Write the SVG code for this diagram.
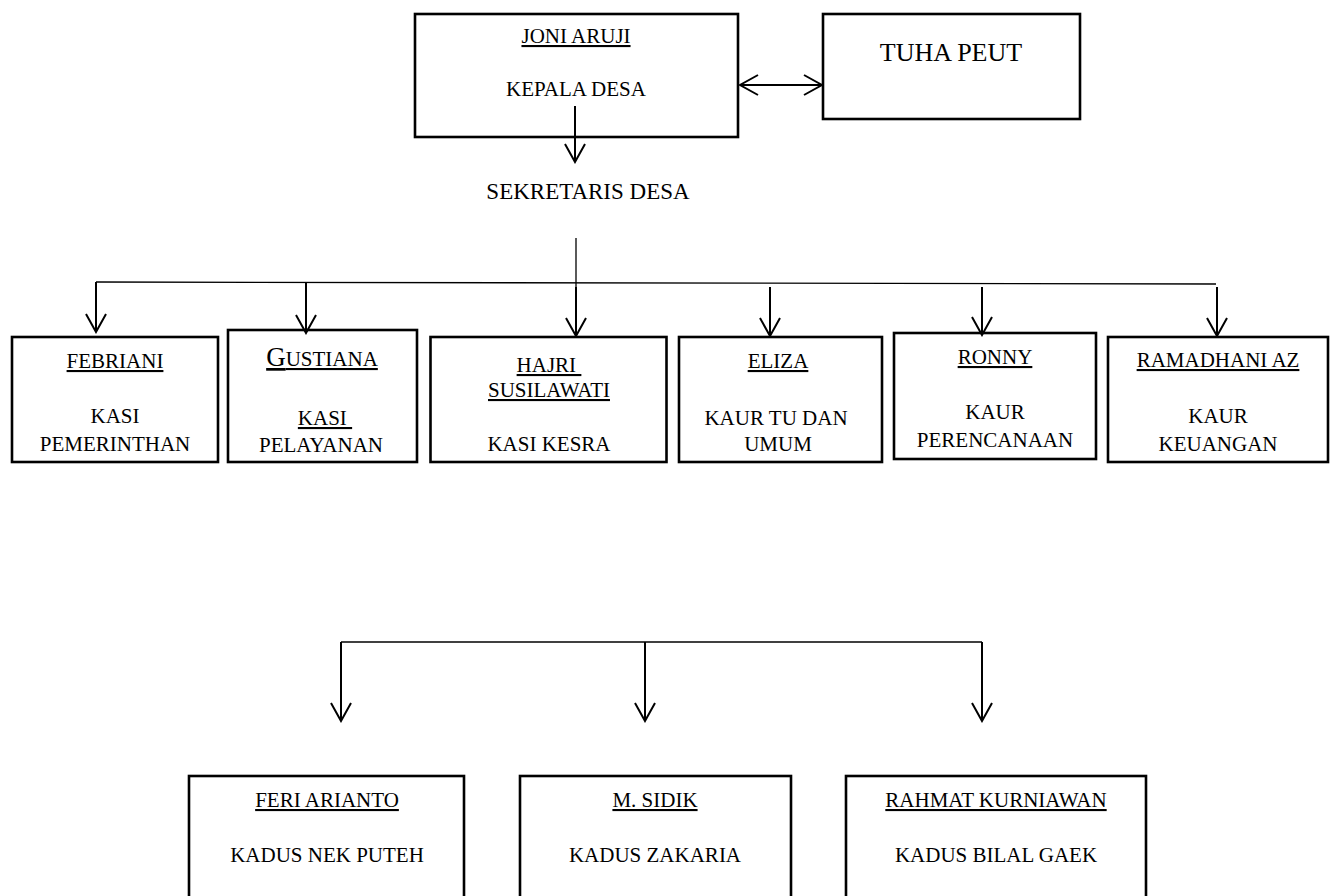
<svg xmlns="http://www.w3.org/2000/svg" width="1335" height="896" viewBox="0 0 1335 896">
<style>
text{font-family:"Liberation Serif","Times New Roman",serif;font-size:21px;fill:#000;text-anchor:middle}
.u{text-decoration:underline}
.box{fill:#fff;stroke:#000;stroke-width:2.6}
.thin{stroke:#000;stroke-width:1.3;fill:none}
.arr{stroke:#000;stroke-width:2;fill:none;marker-end:url(#ah)}
</style>
<defs>
<marker id="ah" viewBox="-21 -12 23 24" refX="0" refY="0" markerWidth="23" markerHeight="24" markerUnits="userSpaceOnUse" orient="auto-start-reverse">
<path d="M-18,-10 L0,0 L-18,10" fill="none" stroke="#000" stroke-width="2"/>
</marker>
</defs>
<rect width="1335" height="896" fill="#fff"/>

<g id="kepala-desa">
<rect class="box" x="415" y="14" width="323" height="123"/>
<text class="u" x="576" y="43">JONI ARUJI</text>
<text x="576" y="96">KEPALA DESA</text>
</g>

<g id="tuha-peut">
<rect class="box" x="823" y="14" width="257" height="105"/>
<text x="951" y="61" style="font-size:26px">TUHA PEUT</text>
</g>

<g id="sekretaris-desa">
<text x="588" y="199" style="font-size:23px">SEKRETARIS DESA</text>
</g>

<g id="febriani">
<rect class="box" x="12" y="337" width="206" height="125"/>
<text class="u" x="115" y="368">FEBRIANI</text>
<text x="115" y="423">KASI</text>
<text x="115" y="451">PEMERINTHAN</text>
</g>

<g id="gustiana">
<rect class="box" x="228" y="330" width="189" height="132"/>
<text class="u" x="322" y="366"><tspan style="font-size:27px">G</tspan>USTIANA</text>
<text class="u" x="325" y="425" xml:space="preserve">KASI </text>
<text x="321" y="452">PELAYANAN</text>
</g>

<g id="hajri">
<rect class="box" x="430.5" y="337" width="236" height="125"/>
<text class="u" x="549" y="372" xml:space="preserve">HAJRI </text>
<text class="u" x="549" y="397">SUSILAWATI</text>
<text x="549" y="451">KASI KESRA</text>
</g>

<g id="eliza">
<rect class="box" x="679" y="337" width="203" height="125"/>
<text class="u" x="778" y="368">ELIZA</text>
<text x="776" y="425">KAUR TU DAN</text>
<text x="778" y="451">UMUM</text>
</g>

<g id="ronny">
<rect class="box" x="894" y="333" width="202" height="126"/>
<text class="u" x="995" y="364">RONNY</text>
<text x="995" y="419">KAUR</text>
<text x="995" y="447">PERENCANAAN</text>
</g>

<g id="ramadhani">
<rect class="box" x="1108" y="337" width="220" height="125"/>
<text class="u" x="1218" y="367">RAMADHANI AZ</text>
<text x="1218" y="423">KAUR</text>
<text x="1218" y="451">KEUANGAN</text>
</g>

<g id="feri">
<rect class="box" x="189" y="776" width="275" height="140"/>
<text class="u" x="327" y="807">FERI ARIANTO</text>
<text x="327" y="862">KADUS NEK PUTEH</text>
</g>

<g id="sidik">
<rect class="box" x="520" y="776" width="271" height="140"/>
<text class="u" x="655" y="807">M. SIDIK</text>
<text x="655" y="862">KADUS ZAKARIA</text>
</g>

<g id="rahmat">
<rect class="box" x="846" y="776" width="300" height="140"/>
<text class="u" x="996" y="807">RAHMAT KURNIAWAN</text>
<text x="996" y="862">KADUS BILAL GAEK</text>
</g>

<g id="connectors">
<line class="arr" x1="575" y1="106" x2="575" y2="162"/>
<line class="arr" x1="740" y1="85" x2="822" y2="85" style="marker-start:url(#ah)"/>
<line class="thin" x1="576" y1="238" x2="576" y2="287"/>
<line class="thin" x1="96" y1="282" x2="1216" y2="284"/>
<line class="arr" x1="96" y1="282" x2="96" y2="332"/>
<line class="arr" x1="306" y1="283" x2="306" y2="333"/>
<line class="arr" x1="576" y1="287" x2="576" y2="336"/>
<line class="arr" x1="770" y1="287" x2="770" y2="336"/>
<line class="arr" x1="982" y1="287" x2="982" y2="335"/>
<line class="arr" x1="1217" y1="287" x2="1217" y2="336"/>
<line class="thin" x1="341" y1="642" x2="982" y2="642"/>
<line class="arr" x1="341" y1="642" x2="341" y2="721"/>
<line class="arr" x1="645" y1="642" x2="645" y2="721"/>
<line class="arr" x1="982" y1="642" x2="982" y2="721"/>
</g>
</svg>
